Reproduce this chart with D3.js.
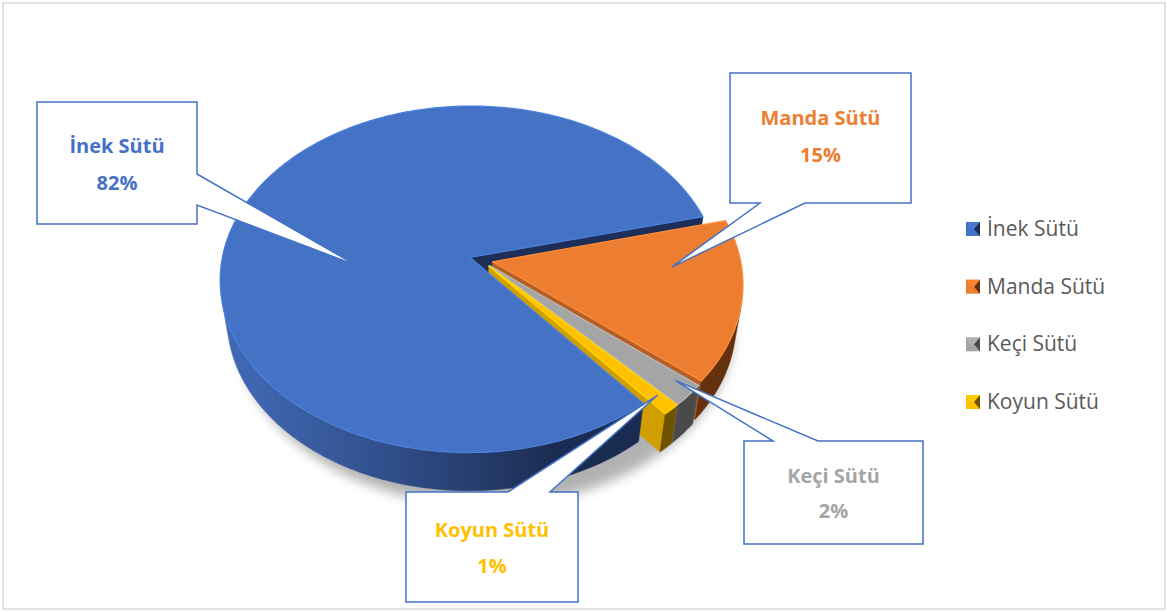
<!DOCTYPE html>
<meta charset="utf-8">
<title>Süt üretimi</title>
<script src="https://d3js.org/d3.v7.min.js"></script>
<style>
  body { margin: 0; background: #fff; }
  text.callout { font-family: "Open Sans", sans-serif; font-size: 20px; font-weight: 700; text-anchor: middle; }
  text.legend { font-family: "Open Sans", sans-serif; font-size: 21px; fill: #595959; }
</style>
<div id="chart"></div>
<script>
// data
var categories = ["İnek Sütü", "Manda Sütü", "Keçi Sütü", "Koyun Sütü"];
var values = [82, 15, 2, 1];

// styling
var topColors  = ["#4472c4", "#ed7d31", "#a5a5a5", "#ffc000"];
var sideLight  = ["#4169b5", "#c4672a", "#8c8c8c", "#d9a400"];
var sideDark   = ["#1b2c52", "#65300e", "#4a4a4a", "#6e5200"];

var W = 1167, H = 612;
var svg = d3.select("#chart").append("svg")
    .attr("width", W)
    .attr("height", H);

svg.append("rect")
    .attr("x", 3).attr("y", 3)
    .attr("width", W - 5).attr("height", H - 6)
    .attr("fill", "#fff")
    .attr("stroke", "#d9d9d9")
    .attr("stroke-width", 1.5);

var defs = svg.append("defs");
defs.append("filter").attr("id", "blur")
    .attr("x", "-20%").attr("y", "-20%").attr("width", "140%").attr("height", "140%")
  .append("feGaussianBlur").attr("stdDeviation", 6);

// perspective camera for the 3d pie
var cx = 481, cy = 260, f = 1424;
var sinA = 0.69, cosA = Math.sqrt(1 - sinA * sinA);
var D0 = 5.74, depth = 0.22, explode = 0.047;
var light = [-0.953, 0.301];

function proj(a, r, h, off) {
  var x = off[0] + r * Math.sin(a), z = off[1] - r * Math.cos(a);
  var d = D0 - h * sinA - z * cosA;
  return [cx + f * x / d, cy + f * (z * sinA - h * cosA) / d, d];
}
function facing(nx, nz, px, pz) {
  return -px * nx + nz * (D0 * cosA - pz) > 0;
}
function shade(i, nx, nz) {
  var k = Math.max(0, Math.min(1, nx * light[0] + nz * light[1]));
  return d3.interpolateRgb(sideDark[i], sideLight[i])(k);
}
var line = d3.line();
function xy(p) { return [p[0], p[1]]; }

var deg = Math.PI / 180;
var start = 140.5 * deg;
var arcs = d3.pie().sort(null).value(function(d) { return d; })
    .startAngle(start).endAngle(start + 2 * Math.PI)(values);

arcs.forEach(function(d) {
  var mid = (d.startAngle + d.endAngle) / 2;
  d.off = [explode * Math.sin(mid), -explode * Math.cos(mid)];
});

// shadow under the pie
var shadowPts = d3.range(0, 361, 3).map(function(t) { return xy(proj(t * deg, 1.02, -depth, [0, 0])); });
svg.append("path")
    .attr("d", line(shadowPts) + "Z")
    .attr("transform", "translate(4,7)")
    .attr("fill", "#000")
    .attr("opacity", 0.3)
    .attr("filter", "url(#blur)");

// walls: one outer wall per slice (visible part) + radial cut faces
var walls = [];
arcs.forEach(function(d, i) {
  var a0 = d.startAngle, a1 = d.endAngle, off = d.off;
  var n = Math.max(4, Math.ceil((a1 - a0) / (0.5 * deg)));
  var vis = [];
  for (var k = 0; k <= n; k++) {
    var a = a0 + (a1 - a0) * k / n;
    var nx = Math.sin(a), nz = -Math.cos(a);
    if (facing(nx, nz, off[0] + nx, off[1] + nz)) vis.push(a);
  }
  if (vis.length > 1) {
    var topPts = vis.map(function(a) { return proj(a, 1, 0, off); });
    var botPts = vis.map(function(a) { return proj(a, 1, -depth, off); }).reverse();
    var stops = vis.map(function(a, j) { return {x: topPts[j][0], c: shade(i, Math.sin(a), -Math.cos(a))}; });
    stops.sort(function(p, q) { return p.x - q.x; });
    var x0 = stops[0].x - 1, x1 = stops[stops.length - 1].x + 1;
    var g = defs.append("linearGradient").attr("id", "side" + i)
        .attr("gradientUnits", "userSpaceOnUse")
        .attr("x1", x0).attr("x2", x1).attr("y1", 0).attr("y2", 0);
    stops.forEach(function(s) {
      g.append("stop").attr("offset", (s.x - x0) / (x1 - x0)).attr("stop-color", s.c);
    });
    walls.push({pts: topPts.concat(botPts), fill: "url(#side" + i + ")"});
  }
  [[a0, a0 - Math.PI / 2], [a1, a1 + Math.PI / 2]].forEach(function(w) {
    var nx = Math.sin(w[1]), nz = -Math.cos(w[1]);
    var px = off[0] + 0.5 * Math.sin(w[0]), pz = off[1] - 0.5 * Math.cos(w[0]);
    if (!facing(nx, nz, px, pz)) return;
    var pts = [proj(w[0], 0, 0, off), proj(w[0], 1, 0, off), proj(w[0], 1, -depth, off), proj(w[0], 0, -depth, off)];
    walls.push({pts: pts, fill: shade(i, nx, nz)});
  });
});
walls.forEach(function(w) { w.d = d3.mean(w.pts, function(p) { return p[2]; }); });
walls.sort(function(a, b) { return b.d - a.d; });

svg.append("g").selectAll("path")
  .data(walls)
  .enter().append("path")
    .attr("d", function(w) { return line(w.pts.map(xy)) + "Z"; })
    .attr("fill", function(w) { return w.fill; })
    .attr("stroke", function(w) { return w.fill; })
    .attr("stroke-width", 0.5)
    .attr("stroke-linejoin", "round");

// top faces
svg.append("g").selectAll("path")
  .data(arcs)
  .enter().append("path")
    .attr("d", function(d) {
      var n = Math.max(2, Math.ceil((d.endAngle - d.startAngle) / deg));
      var pts = [proj(0, 0, 0, d.off)];
      for (var k = 0; k <= n; k++) {
        pts.push(proj(d.startAngle + (d.endAngle - d.startAngle) * k / n, 1, 0, d.off));
      }
      return line(pts.map(xy)) + "Z";
    })
    .attr("fill", function(d, i) { return topColors[i]; })
    .attr("stroke", function(d, i) { return d3.color(topColors[i]).brighter(0.35); })
    .attr("stroke-width", 1.2)
    .attr("stroke-linejoin", "round");

// callouts
var pct = d3.format(".0%");
var total = d3.sum(values);
var callouts = [
  {box: [37, 102, 160, 122], side: "right", base: [174, 205], t: 0.42, r: 0.46, y: [153, 190]},
  {box: [730, 73, 181, 130], side: "bottom", base: [760, 805], t: 0.31, r: 0.72, y: [125, 162]},
  {box: [744, 441, 179, 103], side: "top", base: [773, 818], t: 0.3, r: 0.92, y: [483, 518]},
  {box: [406, 492, 172, 110], side: "top", base: [508, 550], t: 0.3, r: 0.92, y: [537, 573]}
];

function calloutPath(c, tip) {
  var x0 = c.box[0], y0 = c.box[1], x1 = x0 + c.box[2], y1 = y0 + c.box[3];
  var p = d3.path();
  p.moveTo(x0, y0);
  if (c.side === "top") { p.lineTo(c.base[0], y0); p.lineTo(tip[0], tip[1]); p.lineTo(c.base[1], y0); }
  p.lineTo(x1, y0);
  if (c.side === "right") { p.lineTo(x1, c.base[0]); p.lineTo(tip[0], tip[1]); p.lineTo(x1, c.base[1]); }
  p.lineTo(x1, y1);
  if (c.side === "bottom") { p.lineTo(c.base[1], y1); p.lineTo(tip[0], tip[1]); p.lineTo(c.base[0], y1); }
  p.lineTo(x0, y1);
  p.closePath();
  return p.toString();
}

var cg = svg.append("g").selectAll("g")
  .data(arcs)
  .enter().append("g");

cg.append("path")
    .attr("d", function(d, i) {
      var c = callouts[i];
      var a = d.startAngle + (d.endAngle - d.startAngle) * c.t;
      return calloutPath(c, proj(a, c.r, 0, d.off));
    })
    .attr("fill", "#fff")
    .attr("stroke", "#4472c4")
    .attr("stroke-width", 1.5)
    .attr("stroke-linejoin", "miter");

cg.append("text")
    .attr("class", "callout")
    .attr("x", function(d, i) { return callouts[i].box[0] + callouts[i].box[2] / 2; })
    .attr("y", function(d, i) { return callouts[i].y[0]; })
    .attr("fill", function(d, i) { return topColors[i]; })
    .text(function(d, i) { return categories[i]; });

cg.append("text")
    .attr("class", "callout")
    .attr("x", function(d, i) { return callouts[i].box[0] + callouts[i].box[2] / 2; })
    .attr("y", function(d, i) { return callouts[i].y[1]; })
    .attr("fill", function(d, i) { return topColors[i]; })
    .text(function(d) { return pct(d.value / total); });

// legend
var ly = d3.scalePoint().domain(categories).range([229, 402]);
var legend = svg.append("g").selectAll("g")
  .data(categories)
  .enter().append("g")
    .attr("transform", function(d) { return "translate(966," + ly(d) + ")"; });

legend.append("rect")
    .attr("x", 0).attr("y", -7)
    .attr("width", 14).attr("height", 14)
    .attr("fill", function(d, i) { return topColors[i]; });
legend.append("path")
    .attr("d", "M14,-7 L8,0 L14,7 Z")
    .attr("fill", function(d, i) { return sideDark[i]; });
legend.append("path")
    .attr("d", "M0,-7 L14,-7 L8,0 L4,0 Z")
    .attr("fill", function(d, i) { return d3.color(topColors[i]).brighter(0.3); })
    .attr("opacity", 0.6);

legend.append("text")
    .attr("class", "legend")
    .attr("x", 21)
    .attr("y", 7)
    .text(function(d) { return d; });
</script>
